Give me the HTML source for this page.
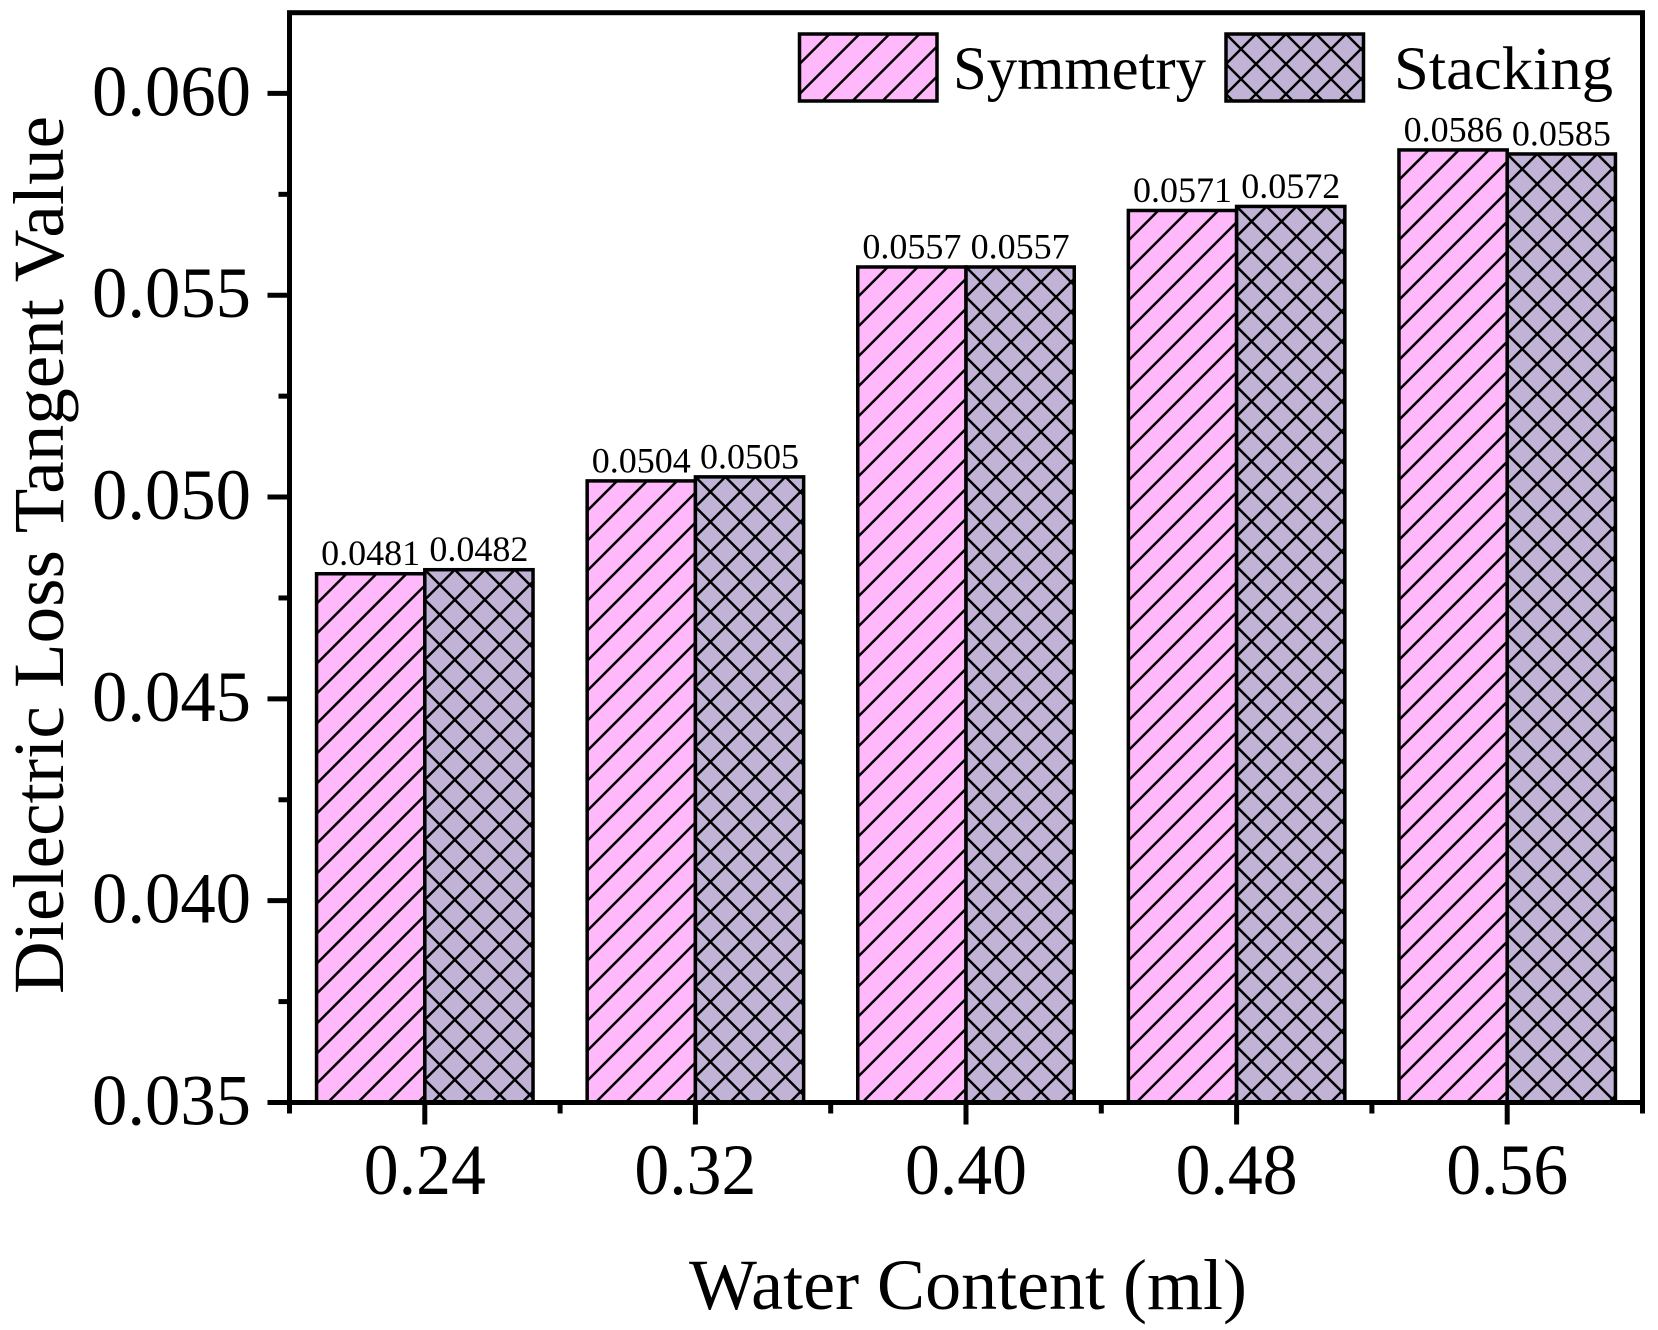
<!DOCTYPE html>
<html lang="en">
<head>
<meta charset="utf-8">
<title>Dielectric Loss Tangent Value vs Water Content</title>
<style>
  html, body { margin: 0; padding: 0; background: #fff; }
  svg { display: block; }
  text { font-family: "Liberation Serif", serif; fill: #000; }
</style>
</head>
<body>
<svg id="chart" xmlns="http://www.w3.org/2000/svg" width="1658" height="1330" viewBox="0 0 1658 1330">
  <rect x="0" y="0" width="1658" height="1330" fill="#ffffff"/>
  <g id="bars"></g>
  <g id="axes"></g>
  <g id="legend"></g>
  <text x="968" y="1309" font-size="72" text-anchor="middle">Water Content (ml)</text>
  <text x="0" y="0" font-size="72" text-anchor="middle" textLength="878" lengthAdjust="spacingAndGlyphs" transform="translate(63 555) rotate(-90)">Dielectric Loss Tangent Value</text>
</svg>
<script>
const categories = ["0.24", "0.32", "0.40", "0.48", "0.56"];
const symmetryValues = [0.0481, 0.0504, 0.0557, 0.0571, 0.0586];
const stackingValues = [0.0482, 0.0505, 0.0557, 0.0572, 0.0585];
const yTickLabels = ["0.035", "0.040", "0.045", "0.050", "0.055", "0.060"];
const yMinorTickValues = [0.0375, 0.0425, 0.0475, 0.0525, 0.0575];
const legendLabels = ["Symmetry", "Stacking"];

const SVGNS = "http://www.w3.org/2000/svg";
const plot = { left: 289.5, right: 1642.5, top: 12.7, bottom: 1102.5 };
const yDomain = [0.035, 0.062];
const PINK = "#ffb8f9";
const PURPLE = "#c1b3d6";
const HATCH = 30;

function yScale(v) {
  return plot.bottom - (v - yDomain[0]) / (yDomain[1] - yDomain[0]) * (plot.bottom - plot.top);
}
function xStep() {
  return (plot.right - plot.left) / categories.length;
}
function xCenter(i) {
  return plot.left + xStep() * (i + 0.5);
}
function make(tag, attrs, parent) {
  const el = document.createElementNS(SVGNS, tag);
  for (const k in attrs) el.setAttribute(k, attrs[k]);
  parent.appendChild(el);
  return el;
}
function hatchPath(x0, y0, x1, y1, cross) {
  let d = "";
  const span = (x1 - x0) + (y1 - y0);
  for (let k = 1; k * HATCH < span; k++) {
    const c = x0 + y0 + k * HATCH;
    const a = Math.max(x0, c - y1), b = Math.min(x1, c - y0);
    if (b > a) d += "M" + a.toFixed(2) + " " + (c - a).toFixed(2) + "L" + b.toFixed(2) + " " + (c - b).toFixed(2);
  }
  if (cross) {
    const n = Math.ceil(span / HATCH);
    for (let k = -n; k <= n; k++) {
      const c = x0 - y0 + k * HATCH;
      const a = Math.max(x0, c + y0), b = Math.min(x1, c + y1);
      if (b > a) d += "M" + a.toFixed(2) + " " + (a - c).toFixed(2) + "L" + b.toFixed(2) + " " + (b - c).toFixed(2);
    }
  }
  return d;
}
function drawBox(parent, x0, y0, x1, y1, fill, cross, name) {
  const g = make("g", {}, parent);
  
  
  make("rect", { x: x0, y: y0, width: x1 - x0, height: y1 - y0, fill: fill }, g);
  make("path", { d: hatchPath(x0, y0, x1, y1, cross), fill: "none", stroke: "#000", "stroke-width": 2.5 }, g);
  make("rect", { x: x0, y: y0, width: x1 - x0, height: y1 - y0, fill: "none", stroke: "#000", "stroke-width": 3.5 }, g);
}

/* bars */
const barsG = document.getElementById("bars");
const barW = xStep() * 0.4;
categories.forEach(function (cat, i) {
  const cx = xCenter(i);
  const base = plot.bottom;
  drawBox(barsG, cx - barW, yScale(symmetryValues[i]), cx, base, PINK, false, "bar-symmetry-" + cat);
  drawBox(barsG, cx, yScale(stackingValues[i]), cx + barW, base, PURPLE, true, "bar-stacking-" + cat);
});
categories.forEach(function (cat, i) {
  const cx = xCenter(i);
  const a = make("text", { x: cx - barW / 2, y: yScale(symmetryValues[i]) - 8.5, "font-size": 36, "text-anchor": "middle" }, barsG);
  a.textContent = symmetryValues[i].toFixed(4);
  
  
  const b = make("text", { x: cx + barW / 2, y: yScale(stackingValues[i]) - 8.5, "font-size": 36, "text-anchor": "middle" }, barsG);
  b.textContent = stackingValues[i].toFixed(4);
  
  
});

/* axes */
const axesG = document.getElementById("axes");
const frame = make("rect", { x: plot.left, y: plot.top, width: plot.right - plot.left, height: plot.bottom - plot.top, fill: "none", stroke: "#000", "stroke-width": 5 }, axesG);



yTickLabels.forEach(function (label) {
  const y = yScale(parseFloat(label));
  const t = make("line", { x1: plot.left - 22, x2: plot.left, y1: y, y2: y, stroke: "#000", "stroke-width": 5 }, axesG);
  
  
  const l = make("text", { x: 251, y: y + 22, "font-size": 72, "text-anchor": "end", textLength: 159, lengthAdjust: "spacingAndGlyphs" }, axesG);
  l.textContent = label;
  
  
});
yMinorTickValues.forEach(function (v) {
  const y = yScale(v);
  const t = make("line", { x1: plot.left - 11, x2: plot.left, y1: y, y2: y, stroke: "#000", "stroke-width": 5 }, axesG);
  
  
});
categories.forEach(function (cat, i) {
  const x = xCenter(i);
  const t = make("line", { x1: x, x2: x, y1: plot.bottom, y2: plot.bottom + 22, stroke: "#000", "stroke-width": 5 }, axesG);
  
  
  const l = make("text", { x: x, y: 1194, "font-size": 72, "text-anchor": "middle", textLength: 122, lengthAdjust: "spacingAndGlyphs" }, axesG);
  l.textContent = cat;
  
  
});
for (let i = 0; i <= categories.length; i++) {
  const x = plot.left + xStep() * i;
  const t = make("line", { x1: x, x2: x, y1: plot.bottom, y2: plot.bottom + 11, stroke: "#000", "stroke-width": 5 }, axesG);
  
  
}

/* legend */
const legendG = document.getElementById("legend");
drawBox(legendG, 799.5, 34, 937, 101, PINK, false, "legend-swatch-symmetry");
drawBox(legendG, 1226, 34, 1363.5, 101, PURPLE, true, "legend-swatch-stacking");
const leg1 = make("text", { x: 953, y: 89, "font-size": 61, textLength: 253, lengthAdjust: "spacingAndGlyphs" }, legendG);
leg1.textContent = legendLabels[0];


const leg2 = make("text", { x: 1394, y: 89, "font-size": 61, textLength: 219, lengthAdjust: "spacingAndGlyphs" }, legendG);
leg2.textContent = legendLabels[1];


</script>
</body>
</html>
